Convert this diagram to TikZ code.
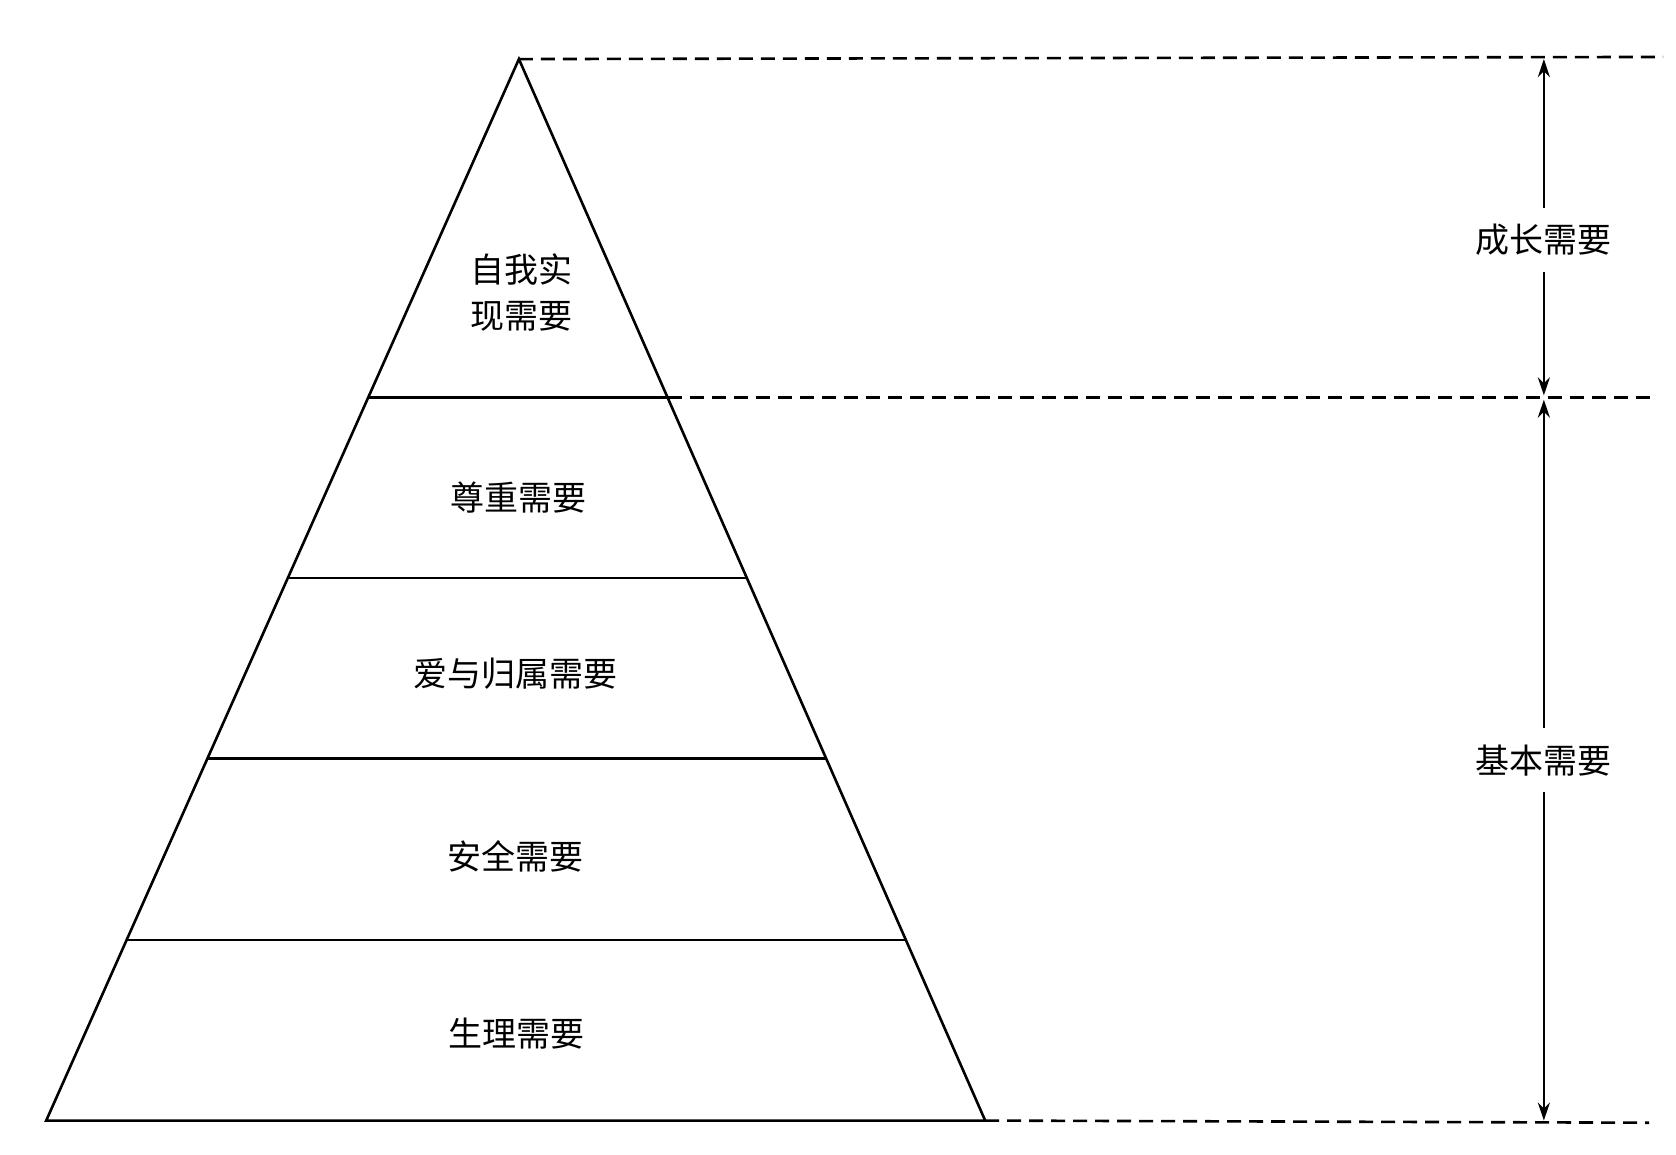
\documentclass[tikz,border=0pt]{standalone}
\usepackage{fontspec}
\setmainfont{Noto Sans CJK SC}
\usetikzlibrary{arrows.meta}
\begin{document}
\begin{tikzpicture}[x=0.53725pt,y=-0.53725pt,line width=1.3pt,
  lbl/.style={font=\fontsize{17}{23}\selectfont,align=center,inner sep=2pt},
  dline/.style={dashed,dash pattern=on 7pt off 4pt},
  dim/.style={{Stealth[length=9pt,width=6pt]}-{Stealth[length=9pt,width=6pt]}}]
\useasboundingbox (0,0) rectangle (1560,1075);
\coordinate (A) at (483,55);
\coordinate (BL) at (43,1043);
\coordinate (BR) at (917,1043);
\draw (A) -- (BL) -- (BR) -- cycle;
\coordinate (L1) at (342.7,370); \coordinate (R1) at (621.4,370);
\coordinate (L2) at (267.9,538); \coordinate (R2) at (695.2,538);
\coordinate (L3) at (193.1,706); \coordinate (R3) at (769.0,706);
\coordinate (L4) at (117.8,875); \coordinate (R4) at (843.2,875);
\draw (L1) -- (R1); \draw (L2) -- (R2); \draw (L3) -- (R3); \draw (L4) -- (R4);
\coordinate (D1) at (1548,53);
\coordinate (D2) at (1540,370);
\coordinate (D3) at (1535,1045);
\draw[dline] (A) -- (D1);
\draw[dline] (R1) -- (D2);
\draw[dline] (BR) -- (D3);
\coordinate (T1) at (1437,55); \coordinate (M1) at (1437,368);
\coordinate (M2) at (1437,372); \coordinate (B1) at (1437,1043);
\draw[dim] (T1) -- node[lbl,fill=white,inner ysep=8pt,yshift=-0.15*1.5cm] (g) {成长需要} (M1);
\draw[dim] (M2) -- node[lbl,fill=white,inner ysep=8pt] (b) {基本需要} (B1);
\node[lbl] (n1) at (485,272) {自我实\\现需要};
\node[lbl] (n2) at (483,463) {尊重需要};
\node[lbl] (n3) at (480,627) {爱与归属需要};
\node[lbl] (n4) at (480,797) {安全需要};
\node[lbl] (n5) at (481,962) {生理需要};
\end{tikzpicture}
\end{document}
